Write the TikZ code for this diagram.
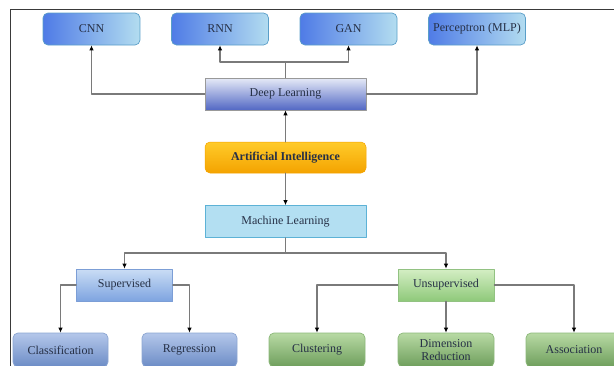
\documentclass[tikz,border=0pt]{standalone}
\usepackage{fontspec}
\setmainfont{Liberation Serif}
\usetikzlibrary{arrows.meta}
\definecolor{txtc}{HTML}{263046}
\definecolor{linec}{HTML}{7A7A7A}
\definecolor{framec}{HTML}{3A3A3A}
\definecolor{topleft}{HTML}{4F7BE6}
\definecolor{topright}{HTML}{B3DDF0}
\definecolor{topdraw}{HTML}{5A9EC8}
\definecolor{dltop}{HTML}{E6EAF7}
\definecolor{dlbot}{HTML}{5268C4}
\definecolor{aitop}{HTML}{FFCB2A}
\definecolor{aibot}{HTML}{F4A300}
\definecolor{mlfill}{HTML}{B3DFF2}
\definecolor{mldraw}{HTML}{5DB2D6}
\definecolor{suptop}{HTML}{CADDF5}
\definecolor{supbot}{HTML}{7EA4E0}
\definecolor{supdraw}{HTML}{7C9ED6}
\definecolor{unstop}{HTML}{D4EEC4}
\definecolor{unsbot}{HTML}{8FC97A}
\definecolor{unsdraw}{HTML}{92C282}
\definecolor{bltop}{HTML}{B4C7EA}
\definecolor{blbot}{HTML}{6C8CC6}
\definecolor{bldraw}{HTML}{8CA6D2}
\definecolor{grtop}{HTML}{B8DAA4}
\definecolor{grbot}{HTML}{6E9E5C}
\definecolor{grdraw}{HTML}{8CB87A}
\begin{document}
\begin{tikzpicture}[line cap=round,line join=round,x=1pt,y=-1pt,
  box/.style={minimum height=32pt,inner sep=1pt,text=txtc,font=\fontsize{12}{13.5}\selectfont,align=center},
  topbox/.style={box,minimum width=97pt,rounded corners=5pt,draw=topdraw,line width=0.7pt,left color=topleft,right color=topright},
  dlbox/.style={box,minimum width=161pt,draw=gray!80,line width=0.7pt,top color=dltop,bottom color=dlbot},
  aibox/.style={box,minimum width=161pt,minimum height=31pt,rounded corners=5pt,draw=aibot,line width=0.5pt,top color=aitop,bottom color=aibot,font=\fontsize{12}{14}\selectfont\bfseries},
  mlbox/.style={box,minimum width=161pt,draw=mldraw,line width=0.7pt,fill=mlfill},
  supbox/.style={box,minimum width=96pt,draw=supdraw,line width=0.7pt,top color=suptop,bottom color=supbot},
  unsbox/.style={box,minimum width=96pt,draw=unsdraw,line width=0.7pt,top color=unstop,bottom color=unsbot},
  bluleaf/.style={box,minimum width=95pt,minimum height=34pt,rounded corners=5pt,draw=bldraw,line width=0.7pt,top color=bltop,bottom color=blbot},
  grnleaf/.style={box,minimum width=96pt,minimum height=34pt,rounded corners=5pt,draw=grdraw,line width=0.7pt,top color=grtop,bottom color=grbot},
  link/.style={draw=linec,line width=1.2pt},
  arr/.style={link,-{Latex[length=5pt,width=4.5pt,color=black]}}]
\useasboundingbox (0,0) rectangle (614,365);
\clip (0,0) rectangle (614,365);
% frame of the screenshot
\draw [framec,line width=0.8pt] (10,366) -- (10,9.5) -- (615,9.5);
% top row
\node [topbox] (cnn) at (91.5,29) {CNN};
\node [topbox] (rnn) at (220,29) {RNN};
\node [topbox] (gan) at (348.5,29) {GAN};
\node [topbox] (mlp) at (477,29) {Perceptron (MLP)};
% middle column
\node [dlbox] (dl) at (285.5,94) {Deep Learning};
\node [aibox] (ai) at (285.5,157.5) {Artificial Intelligence};
\node [mlbox] (ml) at (285.5,221.5) {Machine Learning};
% learning types
\node [supbox] (sup) at (124.5,285) {Supervised};
\node [unsbox] (uns) at (446,285) {Unsupervised};
% leaves
\node [bluleaf] (cls) at (60.5,350) {Classification};
\node [bluleaf] (reg) at (189.5,350) {Regression};
\node [grnleaf] (clu) at (317,350) {Clustering};
\node [grnleaf] (dim) at (446,350) {Dimension\\Reduction};
\node [grnleaf] (asc) at (574,350) {Association};
\coordinate (dlsplit) at (285.5,62);
\coordinate (mlsplit) at (285.5,253);
% connectors
\draw [arr] (dl.west) -| (cnn.south);
\draw [arr] (dl.east) -| (mlp.south);
\draw [link] (dl.north) -- (dlsplit);
\draw [arr] (dlsplit) -| (rnn.south);
\draw [arr] (dlsplit) -| (gan.south);
\draw [arr] (ai.north) -- (dl.south);
\draw [arr] (ai.south) -- (ml.north);
\draw [link] (ml.south) -- (mlsplit);
\draw [arr] (mlsplit) -| (sup.north);
\draw [arr] (mlsplit) -| (uns.north);
\draw [arr] (sup.west) -| (cls.north);
\draw [arr] (sup.east) -| (reg.north);
\draw [arr] (uns.west) -| (clu.north);
\draw [arr] (uns.south) -- (dim.north);
\draw [arr] (uns.east) -| (asc.north);
\end{tikzpicture}
\end{document}
